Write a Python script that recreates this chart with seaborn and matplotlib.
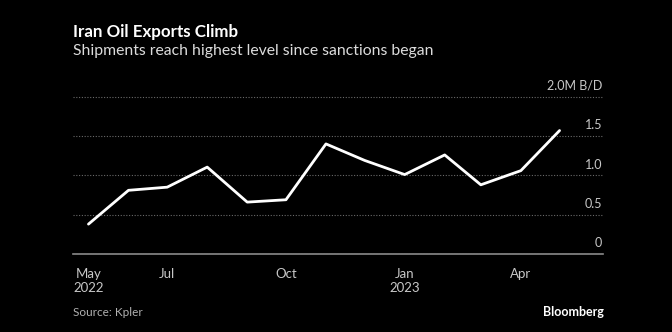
import matplotlib
matplotlib.use("Agg")
import matplotlib.pyplot as plt
from matplotlib.transforms import ScaledTranslation
import seaborn as sns
import pandas as pd

months = pd.date_range("2022-05-01", "2023-05-01", freq="MS")
exports = [0.38, 0.81, 0.85, 1.105, 0.66, 0.69, 1.40, 1.19, 1.01, 1.26, 0.88, 1.06, 1.57]
tick_dates = pd.to_datetime(["2022-05-01", "2022-07-01", "2022-10-01", "2023-01-01", "2023-04-01"])
tick_labels = ["May\n2022", "Jul", "Oct", "Jan\n2023", "Apr"]
y_ticks = [0, 0.5, 1.0, 1.5, 2.0]
y_labels = ["0", "0.5", "1.0", "1.5", "2.0M B/D"]

df = pd.DataFrame({"month": months, "exports": exports})

sns.set_theme(style="white")
plt.rcParams["font.family"] = ["Lato", "DejaVu Sans"]

fig = plt.figure(figsize=(6.72, 3.32), dpi=100, facecolor="black")
ax = fig.add_axes([0.1086, 0.2349, 0.898 - 0.1086, 0.7205 - 0.2349])
ax.set_facecolor("black")

sns.lineplot(data=df, x="month", y="exports", ax=ax, color="white", linewidth=2.0)

ax.set_xlim(pd.Timestamp("2022-04-19"), pd.Timestamp("2023-06-04"))
ax.set_ylim(0, 2.05)
ax.set_xlabel("")
ax.set_ylabel("")

for s in ["top", "left", "right"]:
    ax.spines[s].set_visible(False)
ax.spines["bottom"].set_color("#8a8a8a")
ax.spines["bottom"].set_linewidth(1.2)

ax.set_xticks(tick_dates)
ax.set_xticklabels(tick_labels)
ax.tick_params(axis="x", direction="out", length=4, width=1, color="#8a8a8a",
               labelcolor="#c8c8c8", labelsize=9.5, pad=6)
for lab in ax.get_xticklabels():
    lab.set_linespacing(1.2)

ax.yaxis.tick_right()
ax.set_yticks(y_ticks)
ax.set_yticklabels(y_labels)
ax.tick_params(axis="y", length=0, labelcolor="#c8c8c8", labelsize=9, pad=-1,
               labelright=True, labelleft=False)
shift = ScaledTranslation(0, 3.5 / 72, fig.dpi_scale_trans)
for lab in ax.get_yticklabels():
    lab.set_horizontalalignment("right")
    lab.set_verticalalignment("bottom")
    lab.set_transform(lab.get_transform() + shift)

ax.grid(axis="y", color="#6a6a6a", linestyle=(0, (1, 1.5)), linewidth=0.8)
ax.grid(axis="x", visible=False)

fig.text(0.108, 1 - 31.5 / 332, "Iran Oil Exports Climb", color="white",
         fontsize=12.2, fontweight="bold", va="center", ha="left")
fig.text(0.108, 1 - 50.5 / 332, "Shipments reach highest level since sanctions began",
         color="#dcdcdc", fontsize=11.3, va="center", ha="left")
fig.text(0.108, 1 - 313 / 332, "Source: Kpler", color="#b0b0b0", fontsize=8.5,
         va="center", ha="left")
fig.text(0.898, 1 - 312 / 332, "Bloomberg", color="white", fontsize=9,
         fontweight="bold", va="center", ha="right")

fig.savefig("out.png", dpi=100, facecolor="black")
